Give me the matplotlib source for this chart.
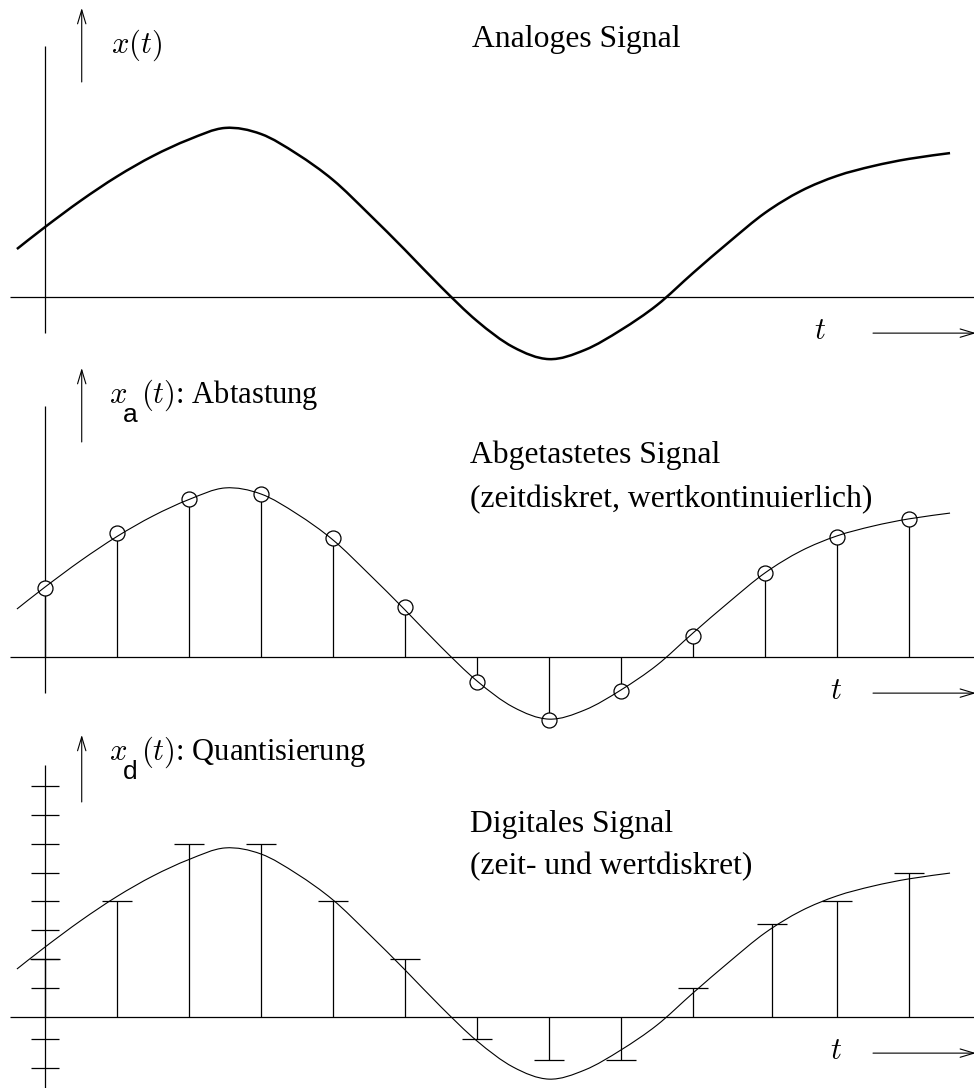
import numpy as np
import matplotlib
matplotlib.use('Agg')
import matplotlib.pyplot as plt
from matplotlib.path import Path
from matplotlib.patches import PathPatch

plt.rcParams['font.family'] = 'Liberation Serif'
plt.rcParams['mathtext.fontset'] = 'cm'

W, H = 974, 1088
U = 28.9      # pixels per quantisation step
X0, DX = 45, 72   # pixel x of t=0, pixels per sample

# analog signal (t in sample periods, amplitude in quantisation steps)
curve_t = [-0.39, 0, 0.5, 1, 1.5, 2, 2.5, 3, 3.5, 4, 4.5, 5, 5.5, 6, 6.5,
           7, 7.5, 8, 8.5, 9, 9.5, 10, 10.5, 11, 11.5, 12, 12.57]
curve_x = [1.66, 2.42, 3.34, 4.17, 4.88, 5.45, 5.85, 5.64, 4.95, 4.05, 2.87,
           1.63, 0.35, -0.83, -1.73, -2.15, -1.83, -1.14, -0.28, 0.83, 1.90,
           2.91, 3.67, 4.19, 4.53, 4.78, 4.98]

# sampled values
sample_t = [0, 1, 2, 3, 4, 5, 6, 7, 8, 9, 10, 11, 12]
sample_x = [2.39, 4.29, 5.47, 5.64, 4.12, 1.73, -0.87, -2.18, -1.18, 0.73,
            2.91, 4.15, 4.78]

# quantised values
quant_t = [0, 1, 2, 3, 4, 5, 6, 7, 8, 9, 10.1, 11, 12]
quant_x = [2, 4, 6, 6, 4, 2, -0.75, -1.5, -1.5, 1, 3.23, 4, 5]
level_ticks = [-1.75, -0.75, 1, 2, 3, 4, 5, 6, 7, 8]

fig = plt.figure(figsize=(W / 100, H / 100), dpi=100)


def make_axes(top, bottom, base):
    ax = fig.add_axes([0, 1 - bottom / H, 1, (bottom - top) / H])
    ax.set_xlim(-X0 / DX, (W - X0) / DX)
    ax.set_ylim((base - bottom) / U, (base - top) / U)
    ax.axis('off')
    return ax


def smooth_curve(ax, t, x, lw):
    # Catmull-Rom through the read points, drawn as cubic Bezier path
    p = np.column_stack([t, x])
    p = np.vstack([p[0], p, p[-1]])
    verts = [p[1]]
    codes = [Path.MOVETO]
    for i in range(1, len(p) - 2):
        c1 = p[i] + (p[i + 1] - p[i - 1]) / 6
        c2 = p[i + 1] - (p[i + 2] - p[i]) / 6
        verts += [c1, c2, p[i + 1]]
        codes += [Path.CURVE4] * 3
    ax.add_patch(PathPatch(Path(verts, codes), fill=False, lw=lw,
                           color='k', capstyle='butt', zorder=3,
                           clip_on=False))


def frame(ax, ax_lo, ax_hi, up_top, tx):
    ax.hlines(0, -0.49, 13, color='k', lw=0.9)
    ax.vlines(0, ax_lo, ax_hi, color='k', lw=0.9)
    arr = dict(arrowstyle='->,head_length=1.0,head_width=0.3', lw=0.8,
               color='k', mutation_scale=10, shrinkA=0, shrinkB=0)
    ax.annotate('', xy=(0.51, up_top), xytext=(0.51, 7.44), arrowprops=arr,
                annotation_clip=False)
    ax.annotate('', xy=(12.93, -1.25), xytext=(11.5, -1.25), arrowprops=arr,
                annotation_clip=False)
    ax.text(tx, -1.2, '$t$', size=22, ha='center', va='center')


def label(px, py, sub, rest):
    fig.text(px / W, 1 - py / H, '$x$', size=22, va='baseline')
    fig.text((px + 14) / W, 1 - (py + 19) / H, sub, size=19,
             family='Liberation Sans', va='baseline')
    fig.text((px + 32) / W, 1 - py / H, rest, size=22, va='baseline')


# panel 1: analog signal
ax1 = make_axes(0, 360, 297)
frame(ax1, -1.25, 8.69, 10.0, 10.76)
smooth_curve(ax1, curve_t, curve_x, 1.8)

# panel 2: sampling
ax2 = make_axes(360, 720, 657)
frame(ax2, -1.25, 8.69, 10.0, 10.99)
smooth_curve(ax2, curve_t, curve_x, 0.8)
ax2.vlines(sample_t, 0, sample_x, color='k', lw=0.9, zorder=1)
ax2.plot(sample_t, sample_x, 'o', ms=10.8, mfc='white', mec='k', mew=0.9,
         zorder=2, clip_on=False)

# panel 3: quantisation
ax3 = make_axes(720, 1088, 1017)
frame(ax3, -2.6, 8.72, 9.76, 10.99)
ax3.hlines(level_ticks, -0.2, 0.2, color='k', lw=0.9)
smooth_curve(ax3, curve_t, curve_x, 0.8)
ax3.vlines(quant_t, 0, quant_x, color='k', lw=0.9)
ax3.hlines(quant_x, np.array(quant_t) - 0.21, np.array(quant_t) + 0.21,
           color='k', lw=0.9)

# texts
fs = 22.8
fig.text(472 / W, 1 - 47 / H, 'Analoges Signal', size=fs, va='baseline')
fig.text(470 / W, 1 - 463 / H, 'Abgetastetes Signal', size=fs, va='baseline')
fig.text(470 / W, 1 - 507 / H, '(zeitdiskret, wertkontinuierlich)', size=fs,
         va='baseline')
fig.text(470 / W, 1 - 832 / H, 'Digitales Signal', size=fs, va='baseline')
fig.text(470 / W, 1 - 874 / H, '(zeit- und wertdiskret)', size=fs,
         va='baseline')

fig.text(111 / W, 1 - 53 / H, '$x(t)$', size=22, va='baseline')
label(109, 403, 'a', r'$(t)$: Abtastung')
label(109, 760, 'd', r'$(t)$: Quantisierung')

fig.savefig('out.png', dpi=100)
